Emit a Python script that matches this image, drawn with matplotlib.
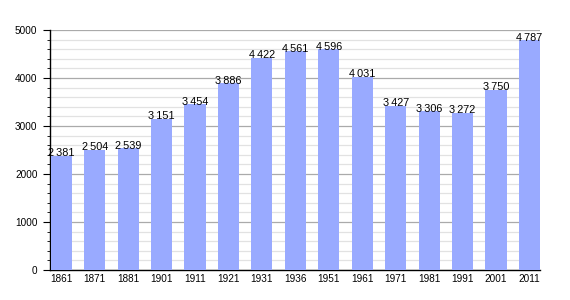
import matplotlib.pyplot as plt
from matplotlib.ticker import MultipleLocator

years = ['1861', '1871', '1881', '1901', '1911', '1921', '1931', '1936',
         '1951', '1961', '1971', '1981', '1991', '2001', '2011']
population = [2381, 2504, 2539, 3151, 3454, 3886, 4422, 4561,
              4596, 4031, 3427, 3306, 3272, 3750, 4787]

plt.rcParams['font.family'] = ['Liberation Sans', 'DejaVu Sans']

fig = plt.figure(figsize=(5.7, 3.0), dpi=100)
ax = fig.add_axes([50 / 570, 30 / 300, 490 / 570, 240 / 300])

w = 0.63
x = range(len(years))
ax.bar(x, population, width=w, color='#99aaff', zorder=3)

for i, v in zip(x, population):
    s = f'{v:,}'.replace(',', '\u2009')
    ax.text(i, v - 10, s, ha='center', va='baseline', fontsize=7.8, zorder=4)

ax.set_ylim(0, 5000)
ax.set_xlim(-w / 2 - 0.02, len(years) - 1 + w / 2)
ax.set_xticks(list(x))
ax.set_xticklabels(years)
ax.yaxis.set_major_locator(MultipleLocator(1000))
ax.yaxis.set_minor_locator(MultipleLocator(200))
ax.grid(axis='y', which='major', color='#aaaaaa', linewidth=0.9, zorder=0)
ax.grid(axis='y', which='minor', color='#e2e2e2', linewidth=0.9, zorder=0)

ax.spines['top'].set_visible(False)
ax.spines['right'].set_visible(False)
ax.spines['left'].set_linewidth(1.0)
ax.spines['bottom'].set_linewidth(1.0)
ax.tick_params(axis='y', which='major', length=5, labelsize=7.2, pad=4)
ax.tick_params(axis='y', which='minor', length=2.5)
ax.tick_params(axis='x', length=0, labelsize=7.2, pad=3)

fig.savefig('out.png', dpi=100)
